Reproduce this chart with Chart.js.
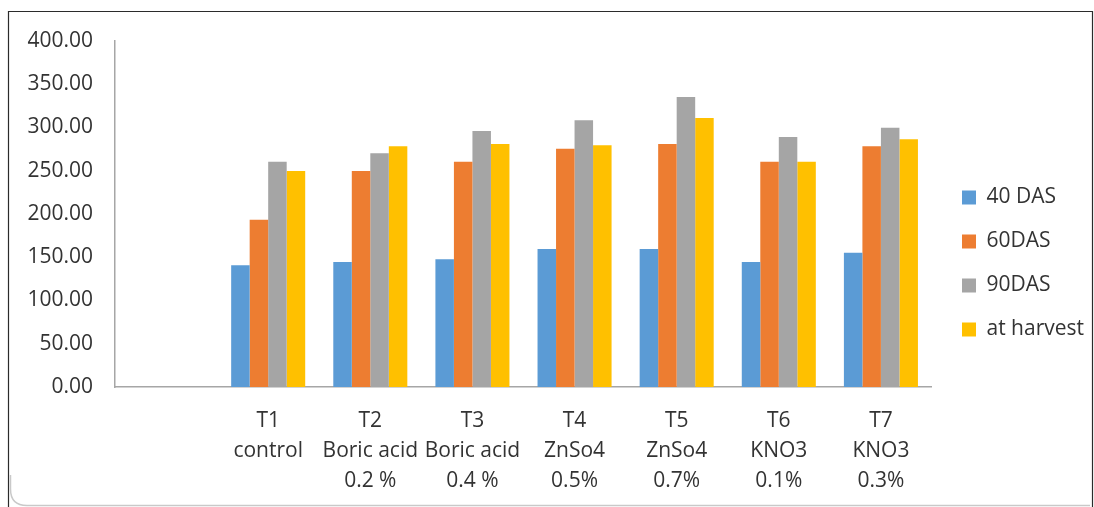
<!DOCTYPE html>
<html>
<head>
<meta charset="utf-8">
<script src="https://cdn.jsdelivr.net/npm/chart.js@4.4.1/dist/chart.umd.min.js"></script>
<style>
  html, body { margin: 0; padding: 0; background: #ffffff; }
  #wrap { position: relative; width: 1094px; height: 507px; }
  canvas { display: block; }
</style>
</head>
<body>
<div id="wrap"><canvas id="chart" width="1094" height="507"></canvas></div>
<script>
// Treatments (first slot is left empty on the axis)
const categories = [
  '',
  ['T1', 'control'],
  ['T2', 'Boric acid', '0.2 %'],
  ['T3', 'Boric acid', '0.4 %'],
  ['T4', 'ZnSo4', '0.5%'],
  ['T5', 'ZnSo4', '0.7%'],
  ['T6', 'KNO3', '0.1%'],
  ['T7', 'KNO3', '0.3%']
];

const seriesNames = ['40 DAS', '60DAS', '90DAS', 'at harvest'];

const das40   = [null, 140.7, 144.5, 147.6, 159.5, 159.5, 144.5, 155.3];
const das60   = [null, 193.4, 249.7, 260.5, 275.5, 281.0, 260.5, 278.3];
const das90   = [null, 260.5, 270.2, 296.0, 308.3, 335.3, 289.0, 299.8];
const harvest = [null, 249.7, 278.3, 281.0, 279.4, 311.0, 260.5, 286.3];

const yTicks = [0, 50, 100, 150, 200, 250, 300, 350, 400];

const colors = ['#5B9BD5', '#ED7D31', '#A5A5A5', '#FFC000'];
const textColor = '#333333';
const axisColor = '#a6a6a6';
const fontFamily = '"Open Sans", "Liberation Sans", sans-serif';

// Outer frame of the chart
const framePlugin = {
  id: 'frame',
  afterLayout(chart) {
    // let the three-line category labels run to the bottom of the canvas
    chart.scales.x.bottom = chart.height;
  },
  beforeDraw(chart) {
    const ctx = chart.ctx;
    ctx.save();
    // rounded inner border, bottom-left corner
    ctx.strokeStyle = '#c9c9c9';
    ctx.lineWidth = 1.5;
    ctx.beginPath();
    ctx.moveTo(10.5, 475);
    ctx.lineTo(10.5, 489);
    ctx.quadraticCurveTo(10.5, 505.5, 27, 505.5);
    ctx.lineTo(1090, 505.5);
    ctx.stroke();
    // dark outer edges
    ctx.strokeStyle = '#2b2b2b';
    ctx.lineWidth = 1.2;
    ctx.beginPath();
    ctx.moveTo(8.5, 507);
    ctx.lineTo(8.5, 11.5);
    ctx.lineTo(1092.5, 11.5);
    ctx.lineTo(1092.5, 507);
    ctx.stroke();
    ctx.restore();
  }
};

const datasets = [das40, das60, das90, harvest].map((values, i) => ({
  label: seriesNames[i],
  data: values,
  backgroundColor: colors[i],
  borderWidth: 0,
  categoryPercentage: 0.725,
  barPercentage: 1.0
}));

new Chart(document.getElementById('chart'), {
  type: 'bar',
  data: { labels: categories, datasets },
  plugins: [framePlugin],
  options: {
    responsive: false,
    animation: false,
    layout: { padding: { top: 41, bottom: 21, left: 0, right: 0 } },
    plugins: {
      tooltip: { enabled: false },
      legend: {
        position: 'right',
        align: 'center',
        labels: {
          boxWidth: 14,
          boxHeight: 14,
          padding: 23,
          color: textColor,
          font: { family: fontFamily, size: 21 }
        }
      }
    },
    scales: {
      x: {
        grid: { display: false, drawTicks: false },
        border: { display: true, color: axisColor, width: 1.5 },
        ticks: {
          color: textColor,
          padding: 19,
          maxRotation: 0,
          autoSkip: false,
          font: { family: fontFamily, size: 21, lineHeight: 1.43 }
        },
        afterFit(scale) { scale.height = 99; }
      },
      y: {
        min: 0,
        max: 400,
        afterBuildTicks(scale) { scale.ticks = yTicks.map(v => ({ value: v })); },
        grid: { display: false, drawTicks: false },
        border: { display: true, color: axisColor, width: 1.5 },
        ticks: {
          color: textColor,
          padding: 22,
          font: { family: fontFamily, size: 21 },
          callback: v => Number(v).toFixed(2)
        },
        afterFit(scale) { scale.width = 115; }
      },
      gap: {
        position: 'right',
        display: true,
        grid: { display: false, drawTicks: false },
        border: { display: false },
        ticks: { display: false },
        afterFit(scale) { scale.width = 7; }
      }
    }
  }
});
</script>
</body>
</html>
